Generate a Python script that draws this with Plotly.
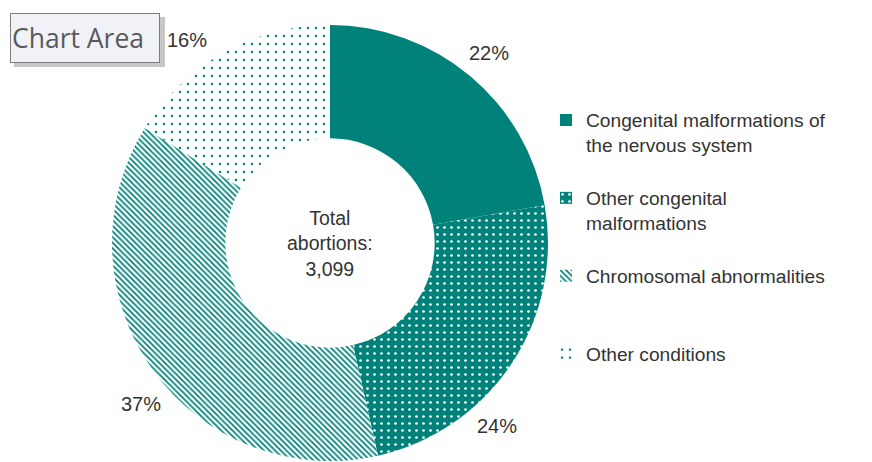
import math
import plotly.graph_objects as go

categories = ["Congenital malformations of<br>the nervous system<br> ",
              "Other congenital<br>malformations<br> ",
              "Chromosomal abnormalities<br> <br> ",
              "Other conditions"]
values = [22, 24, 37, 16]
center_lines = ["Total", "abortions:", "3,099"]

TEAL = "#00827B"
FONT = "Liberation Sans, Arial"
W, H = 872, 462
cx, cy, R = 330, 243, 218
LABEL_R = 248
LABEL_ANGLE_SHIFT = [0, 14, -5, -6]   # degrees, Excel "best fit" placement

fig = go.Figure(go.Pie(
    labels=categories,
    values=values,
    hole=0.48,
    sort=False,
    direction="clockwise",
    rotation=0,
    textinfo="none",
    marker=dict(
        colors=[TEAL, TEAL, "white", "white"],
        line=dict(width=0),
        pattern=dict(
            shape=["", ".", "\\", "."],
            fgcolor=["white", "white", TEAL, TEAL],
            bgcolor=[TEAL, TEAL, "white", "white"],
            size=[6, 7, 4, 8],
            solidity=[0.2, 0.12, 0.45, 0.08],
            fillmode="replace",
        ),
    ),
    domain=dict(x=[(cx - R) / W, (cx + R) / W], y=[1 - (cy + R) / H, 1 - (cy - R) / H]),
    showlegend=True,
))

# percentage labels outside the ring
total = sum(values)
cum = 0
for v, shift in zip(values, LABEL_ANGLE_SHIFT):
    ang = math.radians((cum + v / 2) / total * 360 + shift)
    cum += v
    px = cx + LABEL_R * math.sin(ang)
    py = cy - LABEL_R * math.cos(ang)
    fig.add_annotation(
        x=px / W, y=1 - py / H, xref="paper", yref="paper",
        xanchor="center", yanchor="middle",
        text=f"{round(v / total * 100)}%", showarrow=False,
        font=dict(size=20, color="#333333", family=FONT),
    )

fig.add_annotation(
    x=cx / W, y=1 - cy / H, xref="paper", yref="paper",
    xanchor="center", yanchor="middle",
    text="<br>".join(center_lines), showarrow=False,
    font=dict(size=19.5, color="#333333", family=FONT),
    align="center",
)

# "Chart Area" tooltip box
fig.add_shape(type="rect", xref="paper", yref="paper",
              x0=14 / W, x1=165 / W, y0=1 - 67 / H, y1=1 - 17 / H,
              line=dict(width=0), fillcolor="rgba(0,0,0,0.22)", layer="above")
fig.add_annotation(
    x=10 / W, y=1 - 13 / H, xref="paper", yref="paper",
    xanchor="left", yanchor="top",
    text="Chart Area", showarrow=False,
    font=dict(size=26.5, color="#5a5a5a", family="Open Sans, Noto Sans"),
    bgcolor="#f1f2f7", bordercolor="#7d7d7d", borderwidth=1,
    width=146, height=46, borderpad=1, align="left",
)

fig.update_layout(
    width=W, height=H,
    margin=dict(l=0, r=0, t=0, b=0),
    paper_bgcolor="white",
    font=dict(family=FONT, size=20, color="#333333"),
    legend=dict(
        x=546 / W, y=1 - 101 / H, xanchor="left", yanchor="top",
        valign="top", font=dict(size=19.2, color="#333333", family=FONT),
        itemwidth=30, tracegroupgap=0, bgcolor="rgba(0,0,0,0)",
    ),
)

fig.write_html("out.html", config={"displayModeBar": False},
               post_script="document.body.style.margin='0px';")
